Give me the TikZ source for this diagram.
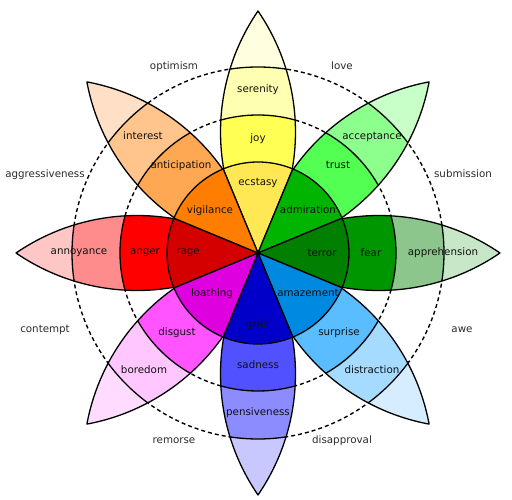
\documentclass[tikz,border=0pt]{standalone}
\usepackage{fontspec}
\setmainfont{DejaVu Sans}
% tip / outer / middle / inner colours
\definecolor{joyT}{HTML}{FFFFE0}\definecolor{joyO}{HTML}{FFFFB1}\definecolor{joyM}{HTML}{FFFF54}\definecolor{joyI}{HTML}{FFE854}
\definecolor{truT}{HTML}{C8FFC8}\definecolor{truO}{HTML}{8CFF8C}\definecolor{truM}{HTML}{54FF54}\definecolor{truI}{HTML}{00B400}
\definecolor{feaT}{HTML}{C8E6C8}\definecolor{feaO}{HTML}{8CC68C}\definecolor{feaM}{HTML}{009600}\definecolor{feaI}{HTML}{007F00}
\definecolor{surT}{HTML}{D6EDFF}\definecolor{surO}{HTML}{A5DBFF}\definecolor{surM}{HTML}{59BDFF}\definecolor{surI}{HTML}{0089E0}
\definecolor{sadT}{HTML}{C8C8FF}\definecolor{sadO}{HTML}{8C8CFF}\definecolor{sadM}{HTML}{5151FF}\definecolor{sadI}{HTML}{0000C8}
\definecolor{disT}{HTML}{FFDCFF}\definecolor{disO}{HTML}{FFC6FF}\definecolor{disM}{HTML}{FF54FF}\definecolor{disI}{HTML}{DE00DE}
\definecolor{angT}{HTML}{FFC6C6}\definecolor{angO}{HTML}{FF8C8C}\definecolor{angM}{HTML}{FF0000}\definecolor{angI}{HTML}{D40000}
\definecolor{antT}{HTML}{FFE0C6}\definecolor{antO}{HTML}{FFC58C}\definecolor{antM}{HTML}{FFA854}\definecolor{antI}{HTML}{FF7D00}
\definecolor{txt}{HTML}{111111}
\definecolor{dtxt}{HTML}{2A2A2A}
\begin{document}
\begin{tikzpicture}[x=1pt,y=1pt,line join=round,
  outl/.style={draw=black,line width=1.3pt},
  lab/.style={font=\fontsize{10.3}{12}\selectfont,text=txt,anchor=base,yshift=-2.8pt,inner sep=0pt},
  dyad/.style={lab,text=dtxt}]
\useasboundingbox (-258,-247) rectangle (254,253);
\draw[line width=1.4pt,dash pattern=on 4pt off 3pt] (0,0) circle[radius=138pt] (0,0) circle[radius=186pt];
\foreach \ang/\ct/\co/\cm in {90/joyT/joyO/joyM,45/truT/truO/truM,0/feaT/feaO/feaM,-45/surT/surO/surM,
  -90/sadT/sadO/sadM,-135/disT/disO/disM,180/angT/angO/angM,135/antT/antO/antM}{
  \begin{scope}[rotate=\ang-90]
    \begin{scope}
      \clip (0,0) arc[start angle=214.43,end angle=145.57,radius=214pt]
                  arc[start angle=34.43,end angle=-34.43,radius=214pt] -- cycle;
      \fill[\ct] (-60,-10) rectangle (60,260);
      \fill[\co] (0,0) circle[radius=186pt];
      \fill[\cm] (0,0) circle[radius=138pt];
      \draw[outl] (0,0) circle[radius=186pt] (0,0) circle[radius=138pt];
    \end{scope}
    \draw[outl] (0,0) arc[start angle=214.43,end angle=145.57,radius=214pt]
                arc[start angle=34.43,end angle=-34.43,radius=214pt] -- cycle;
  \end{scope}
}
\foreach \ang/\ci in {90/joyI,45/truI,0/feaI,-45/surI,-90/sadI,-135/disI,180/angI,135/antI}{
  \filldraw[outl,fill=\ci] (0,0) -- (\ang-22.5:91) arc[start angle=\ang-22.5,end angle=\ang+22.5,radius=91pt] -- cycle;
}
% petal labels
\node[lab] (ecstasy) at (0,70) {ecstasy};
\node[lab] (joy) at (0,114) {joy};
\node[lab] (serenity) at (0,163) {serenity};
\node[lab] (vigilance) at (-48,42) {vigilance};
\node[lab] (admiration) at (50,42) {admiration};
\node[lab] (rage) at (-70,1) {rage};
\node[lab] (anger) at (-113,1) {anger};
\node[lab] (annoyance) at (-179,1) {annoyance};
\node[lab] (loathing) at (-46,-41) {loathing};
\node[lab] (terror) at (64,-1) {terror};
\node[lab] (fear) at (113,-1) {fear};
\node[lab] (apprehension) at (185,0) {apprehension};
\node[lab] (amazement) at (50,-41) {amazement};
\node[lab] (grief) at (0,-72) {grief};
\node[lab] (sadness) at (0,-113) {sadness};
\node[lab] (pensiveness) at (0,-160) {pensiveness};
\node[lab] (disgust) at (-81,-80) {disgust};
\node[lab] (boredom) at (-114,-118) {boredom};
\node[lab] (surprise) at (81,-80) {surprise};
\node[lab] (distraction) at (114,-118) {distraction};
\node[lab] (interest) at (-115,116) {interest};
\node[lab] (anticipation) at (-77,87) {anticipation};
\node[lab] (trust) at (80,87) {trust};
\node[lab] (acceptance) at (114,116) {acceptance};
% dyads
\node[dyad] (optimism) at (-84,186) {optimism};
\node[dyad] (love) at (84,186) {love};
\node[dyad] (aggressiveness) at (-213,78) {aggressiveness};
\node[dyad] (submission) at (205,78) {submission};
\node[dyad] (contempt) at (-213,-77) {contempt};
\node[dyad] (awe) at (204,-77) {awe};
\node[dyad] (remorse) at (-84,-188) {remorse};
\node[dyad] (disapproval) at (84,-188) {disapproval};
\end{tikzpicture}
\end{document}
